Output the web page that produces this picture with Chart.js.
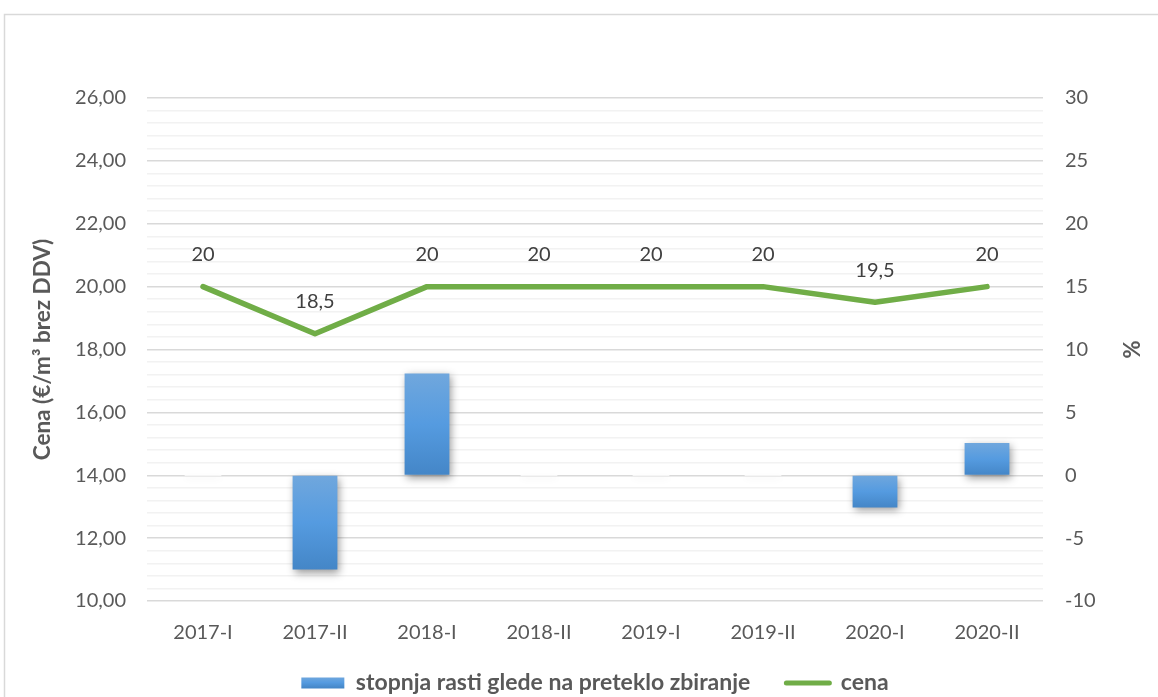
<!DOCTYPE html>
<html>
<head>
<meta charset="utf-8">
<script src="https://cdn.jsdelivr.net/npm/chart.js@4.4.1/dist/chart.umd.min.js"></script>
<style>
  html, body { margin: 0; padding: 0; background: #fff; }
  #wrap { width: 1158px; height: 697px; position: relative; }
</style>
</head>
<body>
<div id="wrap"><canvas id="c" width="1158" height="697"></canvas></div>
<script>
const categories = ['2017-I', '2017-II', '2018-I', '2018-II', '2019-I', '2019-II', '2020-I', '2020-II'];
const cena = [20, 18.5, 20, 20, 20, 20, 19.5, 20];
const stopnjaRasti = [0, -7.5, 8.1, 0, 0, 0, -2.56, 2.56];
const leftTicks = { min: 10, max: 26, step: 0.4, majorEvery: 5 };
const rightTicks = { min: -10, max: 30, step: 1, majorEvery: 5 };
const barLabel = 'stopnja rasti glede na preteklo zbiranje';
const lineLabel = 'cena';
const leftTitle = 'Cena (€/m³ brez DDV)';
const rightTitle = '%';

const FONT = 'Lato';
const TXT = '#595959';
const GREEN = '#70ad47';
const LEGEND_PAD = 36;
const LEGEND_FONT = 23;

function barGradient(ctx2d, top, bot) {
  const g = ctx2d.createLinearGradient(0, top, 0, bot);
  g.addColorStop(0, '#70a7dd');
  g.addColorStop(0.5, '#559be0');
  g.addColorStop(1, '#4486c7');
  return g;
}

const framePlugin = {
  id: 'frame',
  beforeDraw(chart) {
    const c = chart.ctx;
    c.save();
    c.fillStyle = '#fff';
    c.fillRect(0, 0, chart.width, chart.height);
    c.strokeStyle = '#d9d9d9';
    c.lineWidth = 1.5;
    c.strokeRect(4.5, 14.5, 1300, 900);
    c.restore();
  }
};

const legendShift = {
  id: 'legendShift',
  afterLayout(chart) {
    const lg = chart.legend;
    if (!lg) return;
    const h = lg.bottom - lg.top;
    const top = 683 - LEGEND_PAD - LEGEND_FONT / 2;
    lg.top = top;
    lg.bottom = top + h;
  }
};

const shadowPlugin = {
  id: 'barShadow',
  beforeDatasetDraw(chart, args) {
    const c = chart.ctx;
    c.save();
    if (args.meta.type === 'bar') {
      c.shadowColor = 'rgba(0,0,0,0.4)';
      c.shadowBlur = 8;
      c.shadowOffsetX = 2;
      c.shadowOffsetY = 3;
      // faint shadow for zero-height bars
      args.meta.data.forEach(el => {
        const p = el.getProps(['x', 'y', 'base', 'width'], true);
        if (Math.abs(p.base - p.y) < 1) {
          c.save();
          c.shadowColor = 'rgba(0,0,0,0.10)';
          c.shadowBlur = 6;
          c.shadowOffsetX = 0;
          c.shadowOffsetY = 3;
          c.fillStyle = 'rgba(255,255,255,1)';
          c.fillRect(p.x - p.width / 2 + 4, p.y - 0.5, p.width - 8, 1);
          c.restore();
        }
      });
    }
  },
  afterDatasetDraw(chart) {
    chart.ctx.restore();
  }
};

const labelPlugin = {
  id: 'lineLabels',
  afterDatasetsDraw(chart) {
    const idx = chart.data.datasets.findIndex(d => d.type === 'line');
    const meta = chart.getDatasetMeta(idx);
    const c = chart.ctx;
    c.save();
    c.font = '20px ' + FONT;
    c.fillStyle = '#404040';
    c.textAlign = 'center';
    c.textBaseline = 'middle';
    meta.data.forEach((pt, i) => {
      const v = chart.data.datasets[idx].data[i];
      c.fillText(String(v).replace('.', ','), pt.x, pt.y - 32);
    });
    c.restore();
  }
};

new Chart(document.getElementById('c'), {
  data: {
    labels: categories,
    datasets: [
      {
        type: 'bar',
        label: barLabel,
        data: stopnjaRasti,
        yAxisID: 'y1',
        order: 1,
        categoryPercentage: 1,
        barPercentage: 0.4,
        backgroundColor(ctx) {
          const chart = ctx.chart;
          if (!chart.chartArea || ctx.raw === undefined) return '#5b9bd5';
          const s = chart.scales.y1;
          const v = ctx.raw;
          const top = s.getPixelForValue(Math.max(v, 0));
          const bot = s.getPixelForValue(Math.min(v, 0));
          if (Math.abs(bot - top) < 1) return '#5b9bd5';
          return barGradient(chart.ctx, top, bot);
        },
        borderWidth: 0
      },
      {
        type: 'line',
        label: lineLabel,
        data: cena,
        yAxisID: 'y',
        order: 0,
        borderColor: GREEN,
        backgroundColor: GREEN,
        borderWidth: 5.5,
        pointRadius: 0,
        tension: 0,
        borderCapStyle: 'round',
        borderJoinStyle: 'round'
      }
    ]
  },
  options: {
    responsive: false,
    animation: false,
    layout: { padding: { top: 98, left: 0, right: 0, bottom: -33 } },
    plugins: {
      tooltip: { enabled: false },
      legend: {
        position: 'bottom',
        fullSize: false,
        labels: {
          usePointStyle: true,
          pointStyleWidth: 43,
          boxHeight: 11,
          padding: LEGEND_PAD,
          color: TXT,
          font: { family: FONT, size: LEGEND_FONT, weight: 'bold' },
          generateLabels(chart) {
            const ds = chart.data.datasets;
            return [
              { text: ds[0].label, pointStyle: 'rect', fillStyle: chart.chartArea ? barGradient(chart.ctx, 677, 688) : '#5b9bd5', strokeStyle: 'rgba(0,0,0,0)', lineWidth: 0, fontColor: TXT, datasetIndex: 0 },
              { text: ds[1].label, pointStyle: 'line', fillStyle: GREEN, strokeStyle: GREEN, lineWidth: 5, lineCap: 'round', fontColor: TXT, datasetIndex: 1 }
            ];
          }
        }
      }
    },
    scales: {
      x: {
        grid: { display: false, drawTicks: false },
        border: { display: false },
        ticks: { color: TXT, font: { family: FONT, size: 20 }, padding: 20 },
        afterFit(s) { s.height = 60; }
      },
      y: {
        position: 'left',
        min: leftTicks.min,
        max: leftTicks.max,
        border: { display: false },
        grid: {
          drawTicks: false,
          lineWidth: 1.5,
          color(ctx) { return (ctx.index % leftTicks.majorEvery === 0) ? '#d9d9d9' : '#f2f2f2'; }
        },
        ticks: {
          stepSize: leftTicks.step,
          autoSkip: false,
          maxTicksLimit: 1000,
          padding: 21,
          color: TXT,
          font: { family: FONT, size: 20 },
          callback(v, i) { return (i % leftTicks.majorEvery === 0) ? Number(v).toFixed(2).replace('.', ',') : ''; }
        },
        title: { display: true, text: leftTitle, color: TXT, font: { family: FONT, size: 22.5, weight: 'bold' }, padding: { top: 29, bottom: 0 } },
        afterFit(s) { s.width = 147; }
      },
      y1: {
        position: 'right',
        min: rightTicks.min,
        max: rightTicks.max,
        border: { display: false },
        grid: { drawOnChartArea: false, drawTicks: false },
        ticks: {
          stepSize: rightTicks.step,
          autoSkip: false,
          maxTicksLimit: 1000,
          padding: 22,
          color: TXT,
          font: { family: FONT, size: 20 },
          callback(v, i) { return (i % rightTicks.majorEvery === 0) ? String(v) : ''; }
        },
        title: { display: true, text: rightTitle, color: TXT, font: { family: FONT, size: 22, weight: 'bold' }, padding: { top: 15, bottom: 0 } },
        afterFit(s) { s.width = 115; }
      }
    }
  },
  plugins: [framePlugin, legendShift, shadowPlugin, labelPlugin]
});
</script>
</body>
</html>
